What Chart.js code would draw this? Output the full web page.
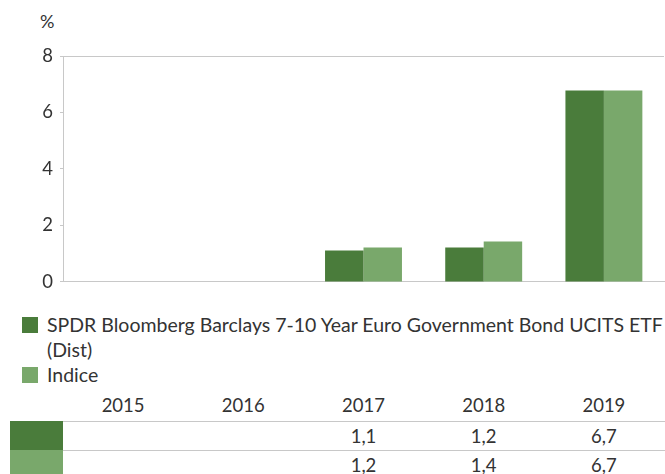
<!DOCTYPE html>
<html>
<head>
<meta charset="utf-8">
<script src="https://cdn.jsdelivr.net/npm/chart.js@4.4.1/dist/chart.umd.min.js"></script>
<style>
  body { margin: 0; background: #fff; font-family: Lato, "Open Sans", sans-serif; color: #333; }
  #wrap { position: relative; width: 665px; height: 474px; overflow: hidden; }
  #unit { position: absolute; left: 40px; top: 10px; font-size: 18px; }
  #chartbox { position: absolute; left: 0; top: 0; width: 665px; height: 300px; }
  #legend { position: absolute; left: 22px; top: 312px; width: 645px; font-size: 19.5px; line-height: 25px; }
  .item { position: relative; padding-left: 25px; }
  .sw { position: absolute; left: 0; top: 5px; width: 16px; height: 16px; }
  #table { position: absolute; left: 0; top: 394px; width: 665px; height: 80px; font-size: 18.5px; }
  .cell { position: absolute; text-align: center; width: 100px; margin-left: -50px; }
  .rowline { position: absolute; height: 1px; background: #c8c8c8; }
  .rowsw { position: absolute; left: 10px; width: 53px; }
</style>
</head>
<body>
<div id="wrap">
  <div id="unit">%</div>
  <div id="chartbox"><canvas id="chart"></canvas></div>
  <div id="legend"></div>
  <div id="table"></div>
</div>
<script>
const years = ['2015', '2016', '2017', '2018', '2019'];
const seriesNames = ['SPDR Bloomberg Barclays 7-10 Year Euro Government Bond UCITS ETF (Dist)', 'Indice'];
const fundValues = [null, null, 1.11, 1.22, 6.78];
const indexValues = [null, null, 1.22, 1.43, 6.78];
const fundLabels = ['', '', '1,1', '1,2', '6,7'];
const indexLabels = ['', '', '1,2', '1,4', '6,7'];
const yTicks = [0, 2, 4, 6, 8];
const colors = ['#4a7c3b', '#79a86b'];

const chart = new Chart(document.getElementById('chart'), {
    type: 'bar',
    data: {
        labels: years,
        datasets: [
            { label: seriesNames[0], data: fundValues, backgroundColor: colors[0], borderWidth: 0 },
            { label: seriesNames[1], data: indexValues, backgroundColor: colors[1], borderWidth: 0 }
        ]
    },
    options: {
        responsive: true,
        maintainAspectRatio: false,
        animation: false,
        layout: { padding: { top: 56, bottom: 16, right: 1, left: 0 } },
        datasets: { bar: { categoryPercentage: 0.64, barPercentage: 1.0 } },
        scales: {
            x: {
                grid: { display: false },
                ticks: { display: false },
                border: { display: true, color: '#c8c8c8', width: 1 },
                afterFit: (s) => { s.height = 0; }
            },
            y: {
                min: 0,
                max: yTicks[yTicks.length - 1],
                afterBuildTicks: (s) => { s.ticks = yTicks.map(v => ({ value: v })); },
                afterFit: (s) => { s.width = 63; },
                border: { display: true, color: '#c8c8c8', width: 1 },
                grid: {
                    color: (c) => c.tick && c.tick.value === 8 ? '#c8c8c8' : 'rgba(0,0,0,0)',
                    tickColor: '#c8c8c8',
                    tickLength: 3,
                    drawTicks: true
                },
                ticks: {
                    color: '#333',
                    padding: 7,
                    font: { family: 'Lato', size: 18.5 }
                }
            }
        },
        plugins: {
            legend: { display: false },
            tooltip: { enabled: false }
        }
    }
});

// legend
const legend = document.getElementById('legend');
seriesNames.forEach((name, i) => {
    const d = document.createElement('div');
    d.className = 'item';
    d.innerHTML = '<span class="sw" style="background:' + colors[i] + '"></span>' + name;
    legend.appendChild(d);
});

// table under the chart, columns follow the x scale
const table = document.getElementById('table');
const xs = chart.scales.x;
const area = chart.chartArea;
years.forEach((y, i) => {
    const cx = xs.getPixelForValue(i);
    const rows = [[y, 0], [fundLabels[i], 31], [indexLabels[i], 60]];
    rows.forEach(([t, top]) => {
        const c = document.createElement('div');
        c.className = 'cell';
        c.style.left = cx + 'px';
        c.style.top = top + 'px';
        c.textContent = t;
        table.appendChild(c);
    });
});
[[27, 29], [56, 30]].forEach(([top, h], i) => {
    const s = document.createElement('div');
    s.className = 'rowsw';
    s.style.top = top + 'px';
    s.style.height = h + 'px';
    s.style.background = colors[i];
    table.appendChild(s);
    const l = document.createElement('div');
    l.className = 'rowline';
    l.style.left = area.left + 'px';
    l.style.width = (665 - area.left) + 'px';
    l.style.top = top + 'px';
    table.appendChild(l);
});
</script>
</body>
</html>
